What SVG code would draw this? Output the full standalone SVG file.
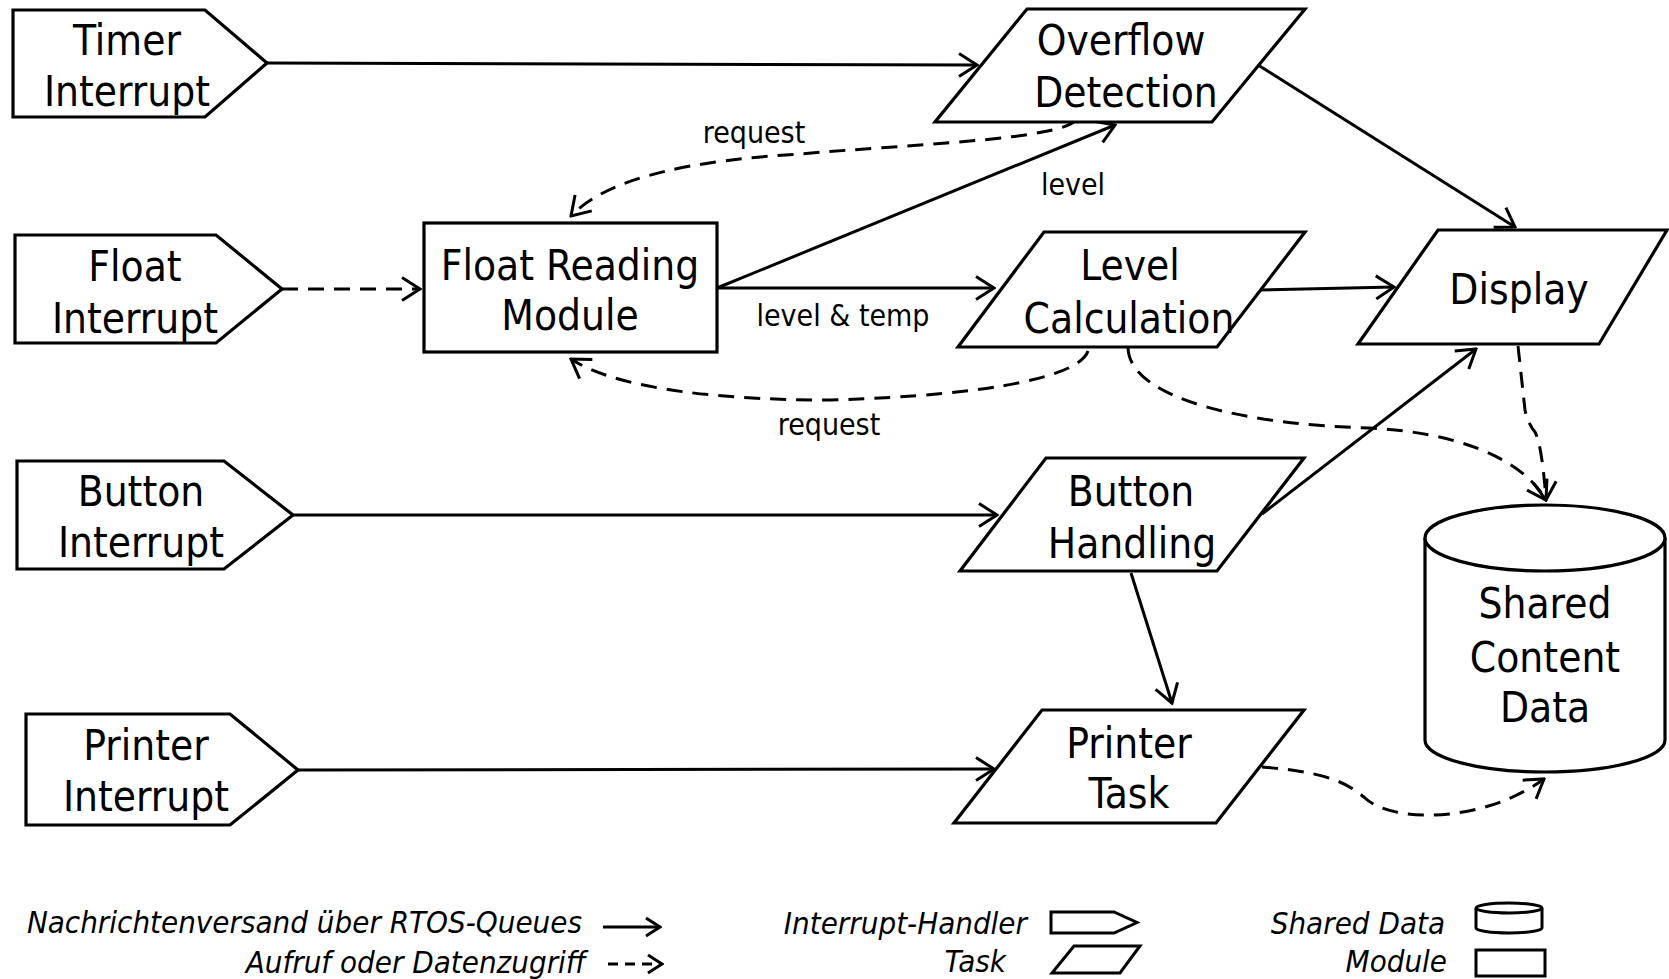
<svg xmlns="http://www.w3.org/2000/svg" width="1669" height="979" viewBox="0 0 1669 979">
  <defs>
    <style>
      .shape { fill: #fff; stroke: #000; stroke-width: 3.2; stroke-linejoin: miter; }
      .lg { fill: #fff; stroke: #000; stroke-width: 3; }
      .t { font-family: "DejaVu Sans Condensed", "DejaVu Sans", sans-serif; font-stretch: condensed; font-size: 42px; fill: #000; text-anchor: middle; }
      .lbl { font-family: "DejaVu Sans Condensed", "DejaVu Sans", sans-serif; font-stretch: condensed; font-size: 30px; fill: #000; text-anchor: middle; }
      .leg { font-family: "DejaVu Sans Condensed", "DejaVu Sans", sans-serif; font-stretch: condensed; font-style: italic; font-size: 31px; fill: #000; text-anchor: end; }
      .msg { fill: none; stroke: #000; stroke-width: 3; marker-end: url(#arr); }
      .call { fill: none; stroke: #000; stroke-width: 3; stroke-dasharray: 16 10; marker-end: url(#arr); }
    </style>
    <marker id="arr" markerUnits="userSpaceOnUse" viewBox="0 0 22 26" markerWidth="22" markerHeight="26" refX="20" refY="13" orient="auto">
      <path d="M2,1.5 L20,13 L2,24.5" fill="none" stroke="#000" stroke-width="3" stroke-dasharray="none"/>
    </marker>
    <marker id="arrS" markerUnits="userSpaceOnUse" viewBox="0 0 18 22" markerWidth="18" markerHeight="22" refX="16" refY="11" orient="auto">
      <path d="M2,2 L16,11 L2,20" fill="none" stroke="#000" stroke-width="3" stroke-dasharray="none"/>
    </marker>
  </defs>

  <rect width="1669" height="979" fill="#fff"/>

  <!-- connectors -->
  <g id="connectors">
    <path class="msg" d="M267,63 L977,65"/>
    <path class="call" d="M282,289 L420,289"/>
    <path class="msg" d="M717,288 L1115,125"/>
    <path class="msg" d="M717,288 L994,288"/>
    <path class="msg" d="M1258,65 L1515,227"/>
    <path class="msg" d="M1260,290 L1394,287"/>
    <path class="msg" d="M293,515 L997,515"/>
    <path class="msg" d="M1262,514 L1476,349"/>
    <path class="msg" d="M1131,573 L1172,703"/>
    <path class="msg" d="M298,770 L994,769"/>
    <path class="call" d="M1076,120 C1060,140 900,145 800,154 C700,160 610,175 571,216"/>
    <path class="call" d="M1088,351 C1080,375 1000,395 830,400 C700,400 610,385 571,359"/>
    <path class="call" d="M1518,346 L1525,410 Q1528,424 1535,432 Q1542,445 1546,500"/>
    <path class="call" d="M1128,348 C1130,400 1250,425 1370,428 C1450,432 1520,455 1546,500"/>
    <path class="call" d="M1262,767 C1330,772 1350,785 1365,798 C1390,822 1480,825 1544,779"/>
    <text class="lbl" x="754" y="143">request</text>
    <text class="lbl" x="1073" y="195">level</text>
    <text class="lbl" x="843" y="326">level &amp; temp</text>
    <text class="lbl" x="829" y="435">request</text>
  </g>

  <!-- interrupt handlers -->
  <g id="timer-interrupt">
    <polygon class="shape" points="13,10 205,10 267,63 205,117 13,117"/>
    <text class="t" x="127" y="55">Timer</text>
    <text class="t" x="127" y="106">Interrupt</text>
  </g>
  <g id="float-interrupt">
    <polygon class="shape" points="15,235 216,235 282,289 216,343 15,343"/>
    <text class="t" x="135" y="281">Float</text>
    <text class="t" x="135" y="333">Interrupt</text>
  </g>
  <g id="button-interrupt">
    <polygon class="shape" points="17,461 224,461 293,515 224,569 17,569"/>
    <text class="t" x="141" y="506">Button</text>
    <text class="t" x="141" y="557">Interrupt</text>
  </g>
  <g id="printer-interrupt">
    <polygon class="shape" points="26,714 230,714 298,770 230,825 26,825"/>
    <text class="t" x="146" y="760">Printer</text>
    <text class="t" x="146" y="811">Interrupt</text>
  </g>

  <!-- module -->
  <g id="float-reading-module">
    <rect class="shape" x="424" y="223" width="293" height="129"/>
    <text class="t" x="570" y="280">Float Reading</text>
    <text class="t" x="570" y="330">Module</text>
  </g>

  <!-- tasks -->
  <g id="overflow-detection">
    <polygon class="shape" points="1027,9 1305,9 1212,122 935,122"/>
    <text class="t" x="1121" y="55">Overflow</text>
    <text class="t" x="1126" y="107">Detection</text>
  </g>
  <g id="level-calculation">
    <polygon class="shape" points="1044,232 1305,232 1217,347 958,347"/>
    <text class="t" x="1130" y="280">Level</text>
    <text class="t" x="1129" y="333">Calculation</text>
  </g>
  <g id="display">
    <polygon class="shape" points="1438,230 1667,230 1599,344 1358,344"/>
    <text class="t" x="1519" y="304">Display</text>
  </g>
  <g id="button-handling">
    <polygon class="shape" points="1046,458 1304,458 1217,571 960,571"/>
    <text class="t" x="1131" y="506">Button</text>
    <text class="t" x="1132" y="558">Handling</text>
  </g>
  <g id="printer-task">
    <polygon class="shape" points="1042,710 1304,710 1216,823 954,823"/>
    <text class="t" x="1129" y="758">Printer</text>
    <text class="t" x="1129" y="808">Task</text>
  </g>

  <!-- shared data -->
  <g id="shared-content-data">
    <path class="shape" d="M1425,538 L1425,740 A120,32 0 0 0 1665,740 L1665,538 A120,33 0 0 0 1425,538 Z"/>
    <path class="shape" fill="none" d="M1425,538 A120,33 0 0 0 1665,538"/>
    <text class="t" x="1545" y="618">Shared</text>
    <text class="t" x="1545" y="672">Content</text>
    <text class="t" x="1545" y="722">Data</text>
  </g>

  <!-- legend -->
  <g id="legend">
    <text class="leg" x="582" y="933">Nachrichtenversand über RTOS-Queues</text>
    <path d="M603,927 L660,927" fill="none" stroke="#000" stroke-width="3" marker-end="url(#arrS)"/>
    <text class="leg" x="586" y="973">Aufruf oder Datenzugriff</text>
    <path d="M608,964 L662,964" fill="none" stroke="#000" stroke-width="3" stroke-dasharray="10 7" marker-end="url(#arrS)"/>

    <text class="leg" x="1027" y="934">Interrupt-Handler</text>
    <polygon class="lg" points="1051,912 1114,912 1137,922.5 1114,933 1051,933"/>
    <text class="leg" x="1006" y="972">Task</text>
    <polygon class="lg" points="1074,946 1140,946 1120,973 1052,973"/>

    <text class="leg" x="1445" y="934">Shared Data</text>
    <path class="lg" d="M1476,908 L1476,928 A33,5 0 0 0 1542,928 L1542,908 A33,5 0 0 0 1476,908 Z"/>
    <path class="lg" fill="none" d="M1476,908 A33,5 0 0 0 1542,908"/>
    <text class="leg" x="1447" y="972">Module</text>
    <rect class="lg" x="1476" y="950" width="69" height="26"/>
  </g>
</svg>
